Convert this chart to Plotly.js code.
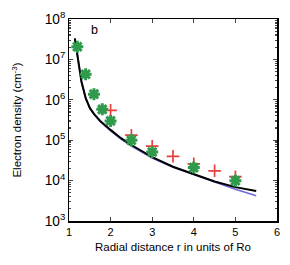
<!DOCTYPE html>
<html><head><meta charset="utf-8">
<script src="https://cdn.plot.ly/plotly-3.0.1.min.js"></script>
<style>html,body{margin:0;padding:0;background:#fff;}#c{width:290px;height:265px;}</style>
</head><body><div id="c"></div>
<script>
const curveR = [1.14,1.17,1.2,1.25,1.3,1.4,1.5,1.6,1.75,2.0,2.25,2.5,3.0,3.5,4.0,4.5,5.0,5.5];
const blackN = [3.3e7,2.0e7,1.3e7,5.6e6,2.8e6,1.12e6,6.3e5,4.5e5,3.0e5,1.8e5,1.12e5,7.6e4,3.8e4,2.2e4,1.45e4,9.5e3,6.9e3,5.5e3];
const blueN  = [3.3e7,2.0e7,1.3e7,5.6e6,2.8e6,1.1e6,6.2e5,4.4e5,2.9e5,1.7e5,1.07e5,7.2e4,3.6e4,2.15e4,1.4e4,9.0e3,6.1e3,4.2e3];
const greenR = [1.2,1.4,1.6,1.8,2.0,2.5,3.0,4.0,5.0];
const greenN = [2.05e7,4.3e6,1.38e6,5.8e5,3.0e5,1.0e5,5.1e4,2.1e4,9.9e3];
const redR = [2.0,2.5,3.0,3.5,4.0,4.5,5.0];
const redN = [5.5e5,1.33e5,7.1e4,4.0e4,2.6e4,1.75e4,1.25e4];
const xTitle = 'Radial distance r in units of Ro';
const yTitle = 'Electron density (cm<sup>-3</sup>)';
const panelLabel = 'b';

const data = [
  {x: curveR, y: blueN, mode:'lines', line:{color:'#6a6ad8', width:1.6}, hoverinfo:'skip'},
  {x: curveR, y: blackN, mode:'lines', line:{color:'#000', width:2}, hoverinfo:'skip'},
  {x: redR, y: redN, mode:'markers', marker:{symbol:'cross-thin-open', size:9, color:'#e8403a', line:{color:'#e8403a', width:1.7}}},
  {x: greenR, y: greenN, mode:'markers', marker:{symbol:'asterisk-open', size:10, color:'#2f9a4c', line:{color:'#2f9a4c', width:3}}}
];
const font = {family:'Liberation Sans, Arial, sans-serif', size:11, color:'#000'};
const layout = {
  width:290, height:265, showlegend:false,
  margin:{l:69, r:13, t:19, b:44},
  paper_bgcolor:'#fff', plot_bgcolor:'#fff',
  font: font,
  xaxis:{range:[1,6], tickvals:[1,2,3,4,5,6], ticks:'inside', ticklen:4, tickwidth:1.2,
    showline:true, linewidth:1.5, linecolor:'#000', mirror:'ticks', showgrid:false, zeroline:false,
    tickfont:{family:font.family, size:11}, title:{text:xTitle, font:{family:font.family, size:11.5}, standoff:6}},
  yaxis:{type:'log', range:[3,8], dtick:1, exponentformat:'power', ticks:'inside', ticklen:4, tickwidth:1.2,
    minor:{ticks:'inside', ticklen:2, showgrid:false},
    showline:true, linewidth:1.5, linecolor:'#000', mirror:'ticks', showgrid:false, zeroline:false,
    tickfont:{family:font.family, size:11}, title:{text:yTitle, font:{family:font.family, size:11.5}, standoff:20}},
  annotations:[{text:panelLabel, xref:'paper', yref:'paper', x:0.095, y:0.99, xanchor:'left', yanchor:'top', showarrow:false, font:{family:font.family, size:12.5}}]
};
Plotly.newPlot('c', data, layout, {staticPlot:true, displayModeBar:false});
</script></body></html>
